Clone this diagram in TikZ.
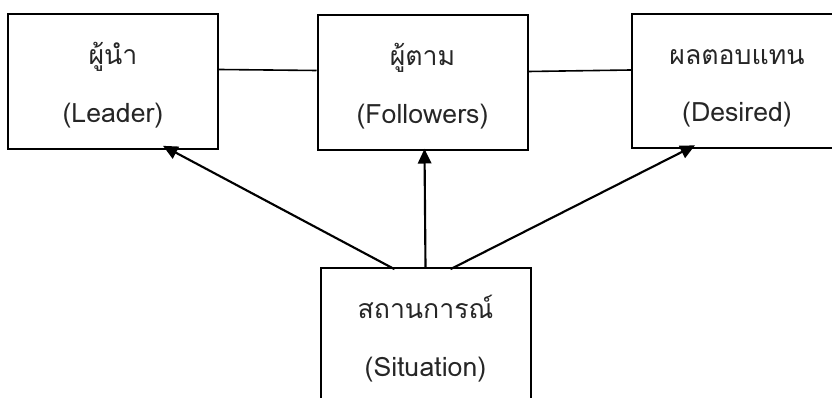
\documentclass[tikz,border=0pt]{standalone}
\usepackage{fontspec}
\usepackage{tikz}
\usetikzlibrary{arrows.meta,positioning,calc}
\newfontfamily\thaifont[Script=Thai]{Loma}
\definecolor{inkgray}{HTML}{262626}

\tikzset{
  factorbox/.style={draw, line width=1.5pt, minimum width=157.5pt, minimum height=101pt,
    align=center, text=inkgray, text height=61pt, text depth=0pt,
    font=\thaifont\fontsize{20}{43}\selectfont},
  link/.style={line width=1.2pt},
  pushes/.style={line width=1.6pt, -{Triangle[length=11pt,width=10pt]}}
}

\begin{document}
\begin{tikzpicture}[x=0.75pt,y=-0.75pt]
\useasboundingbox (0,0) rectangle (832,398);
\node[factorbox] (lead) at (113,81.5) {ผู้นำ\\(Leader)};
\node[factorbox] (foll) at (422.5,82.5) {ผู้ตาม\\(Followers)};
\node[factorbox] (want) at (737,81) {ผลตอบแทน\\(Desired)};
\node[factorbox] (situ) at (425.5,335.5) {สถานการณ์\\(Situation)};
\draw[link] ($(lead.east)+(0,-12)$) -- ($(foll.west)+(0,-12)$);
\draw[link] ($(foll.east)+(0,-11)$) -- ($(want.west)+(0,-11)$);
\draw[pushes] ($(situ.north)+(-31,2)$) -- ($(lead.south)+(50,-4)$);
\draw[pushes] (situ.north) -- ($(foll.south)+(2,-2)$);
\draw[pushes] ($(situ.north)+(25,2)$) -- ($(want.south)+(-42,-4)$);
\end{tikzpicture}
\end{document}
